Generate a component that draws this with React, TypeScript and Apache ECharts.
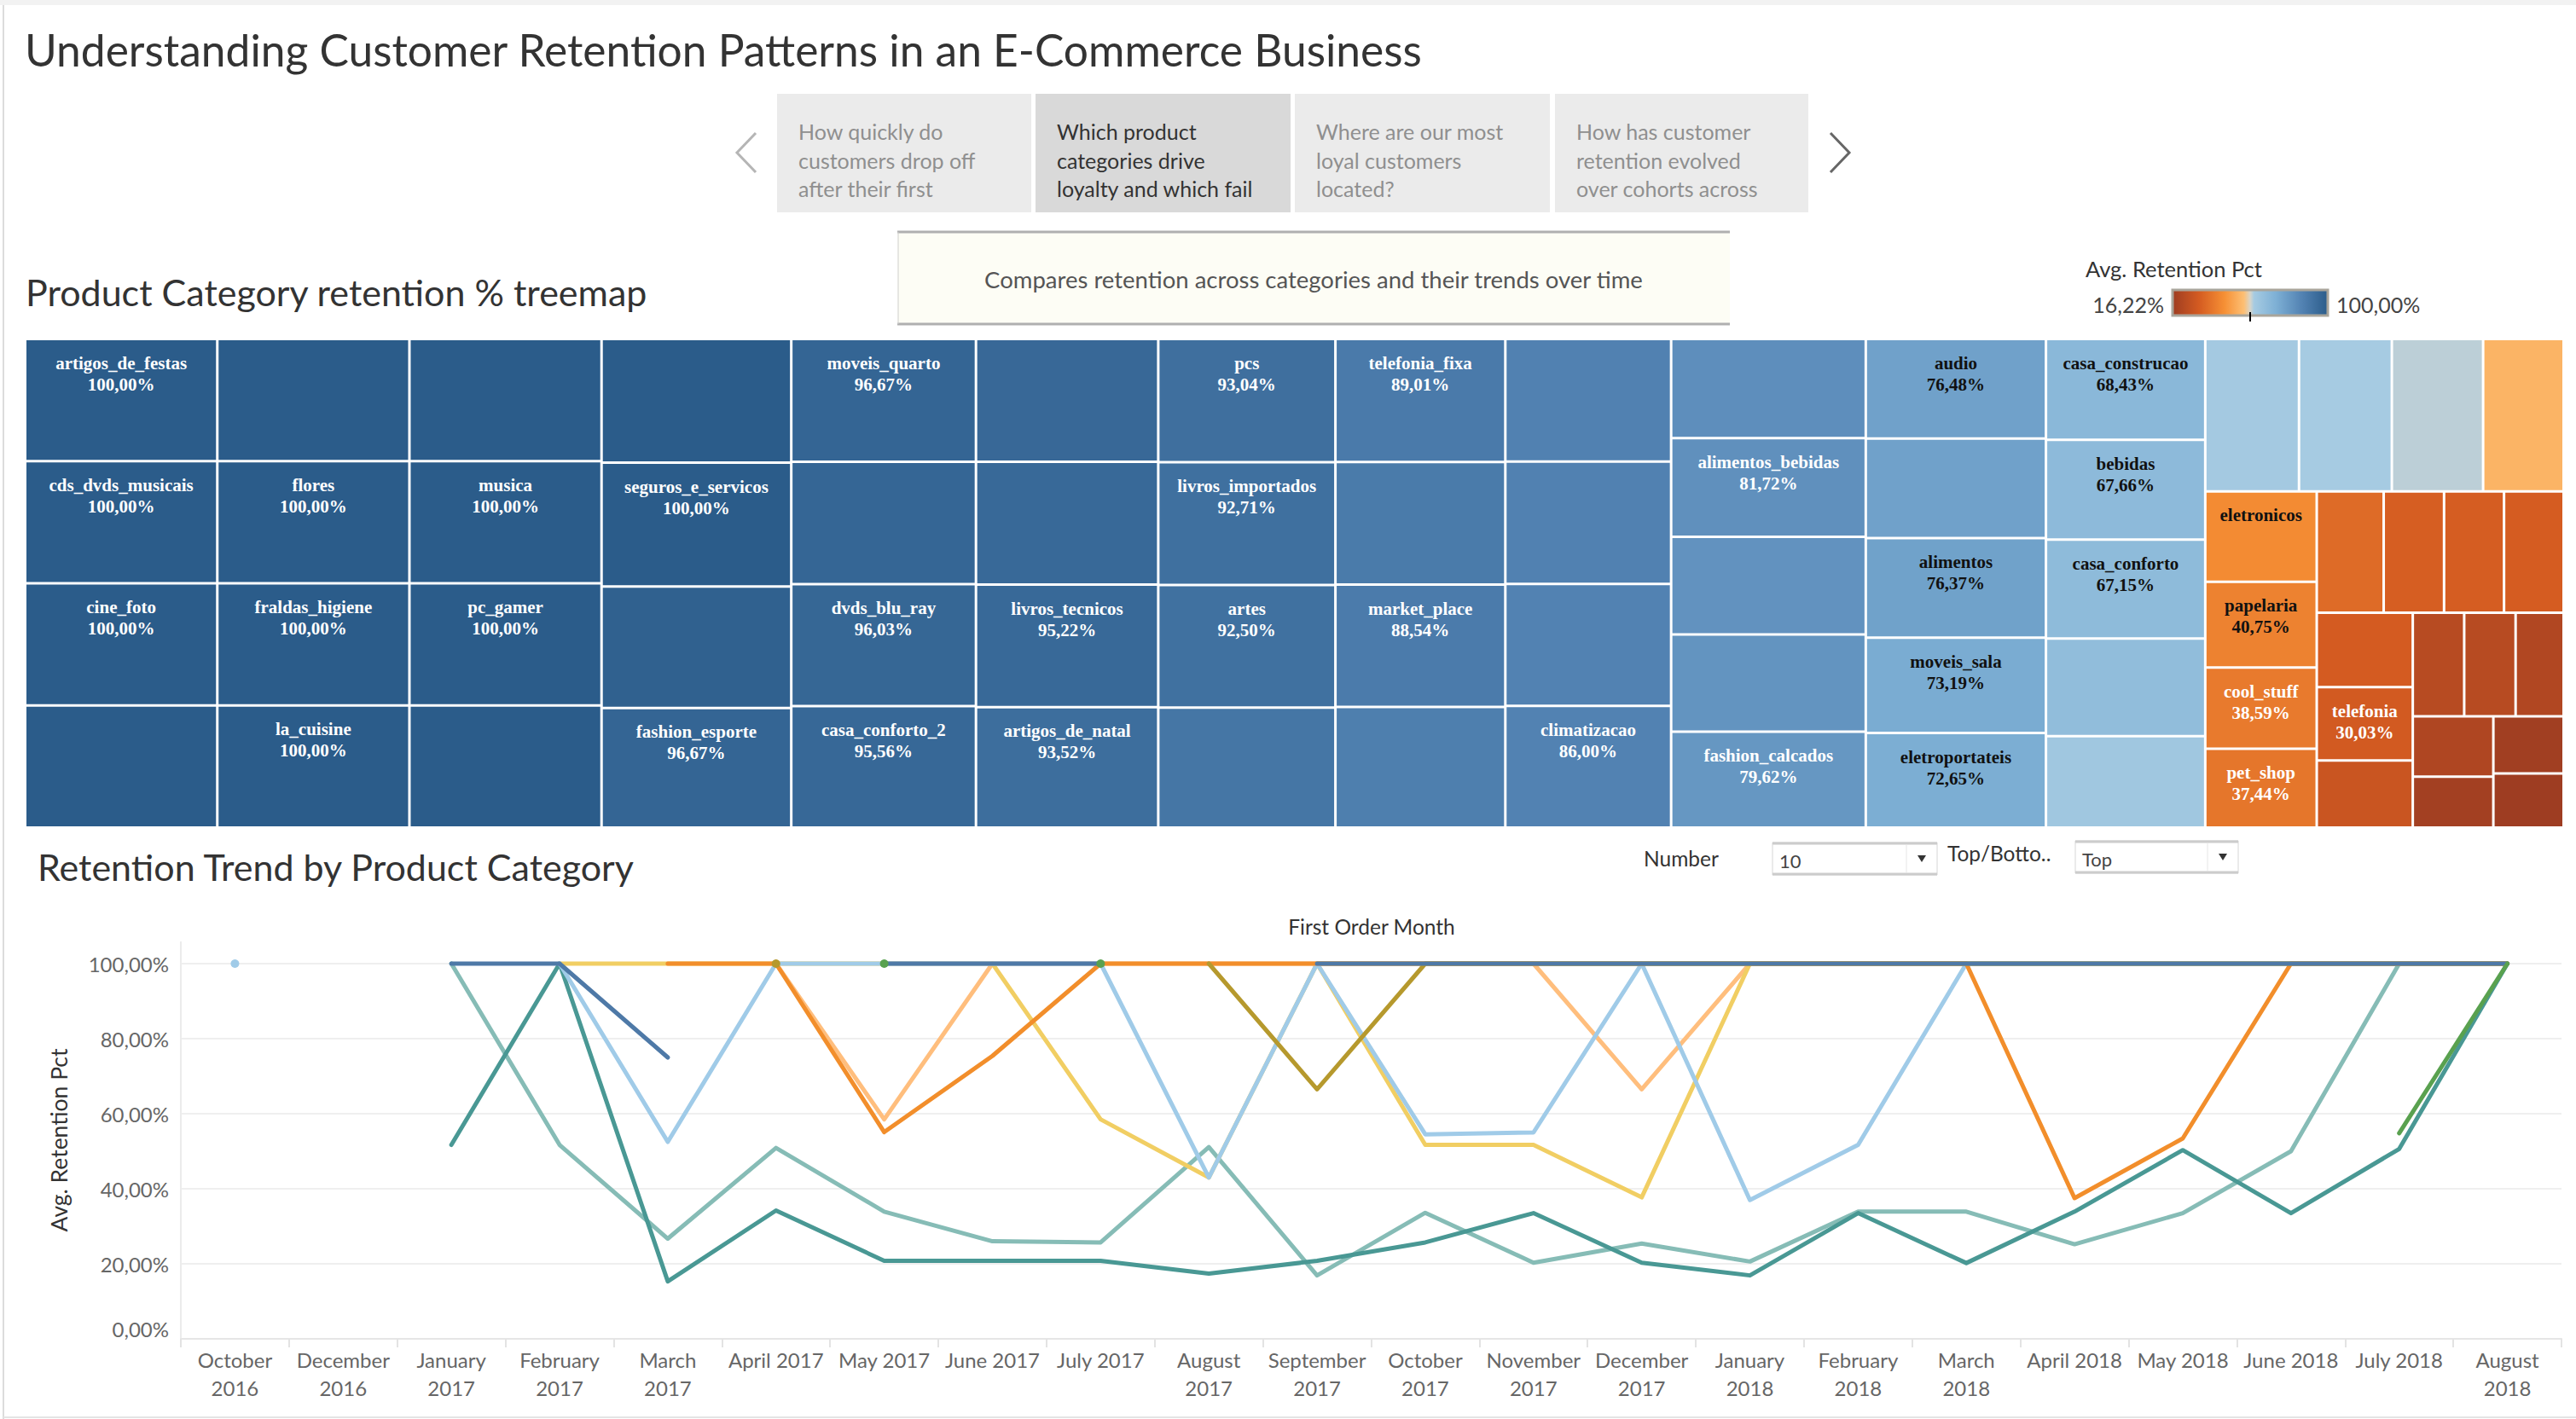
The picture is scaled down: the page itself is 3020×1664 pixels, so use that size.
import React, { useEffect, useRef } from 'react';
import * as echarts from 'echarts';

// ---------------- DATA ----------------
// Treemap: categories whose labels are shown, with Avg. Retention Pct
const labeledCats = [
  'artigos_de_festas', 'cds_dvds_musicais', 'cine_foto', 'flores', 'fraldas_higiene', 'la_cuisine',
  'musica', 'pc_gamer', 'seguros_e_servicos', 'fashion_esporte', 'moveis_quarto', 'dvds_blu_ray',
  'casa_conforto_2', 'livros_tecnicos', 'artigos_de_natal', 'pcs', 'livros_importados', 'artes',
  'telefonia_fixa', 'market_place', 'climatizacao', 'alimentos_bebidas', 'fashion_calcados', 'audio',
  'alimentos', 'moveis_sala', 'eletroportateis', 'casa_construcao', 'bebidas', 'casa_conforto',
  'eletronicos', 'papelaria', 'cool_stuff', 'pet_shop', 'telefonia',
];
const labeledVals = [
  100, 100, 100, 100, 100, 100,
  100, 100, 100, 96.67, 96.67, 96.03,
  95.56, 95.22, 93.52, 93.04, 92.71, 92.5,
  89.01, 88.54, 86.0, 81.72, 79.62, 76.48,
  76.37, 73.19, 72.65, 68.43, 67.66, 67.15,
  42.9, 40.75, 38.59, 37.44, 30.03,
];
// label shows only the name (value line not displayed)
const nameOnlyCats = ['eletronicos'];
// Treemap: categories whose labels are not displayed
const otherCats = [
  'fashion_roupa_feminina', 'fashion_roupa_infanto_juvenil', 'moveis_colchao_e_estofado',
  'portateis_casa_forno_e_cafe', 'portateis_cozinha_e_preparadores_de_alimentos', 'artes_e_artesanato',
  'fashion_underwear_e_moda_praia', 'construcao_ferramentas_ferramentas', 'industria_comercio_e_negocios',
  'livros_interesse_geral', 'fashion_bolsas_e_acessorios', 'construcao_ferramentas_iluminacao',
  'agro_industria_e_comercio', 'moveis_cozinha_area_de_servico_jantar_e_jardim', 'sinalizacao_e_seguranca',
  'construcao_ferramentas_seguranca', 'fashion_roupa_masculina', 'instrumentos_musicais',
  'tablets_impressao_imagem', 'construcao_ferramentas_jardim', 'construcao_ferramentas_construcao',
  'eletrodomesticos_2', 'malas_acessorios', 'moveis_escritorio', 'ferramentas_jardim',
  'eletrodomesticos', 'perfumaria', 'automotivo', 'brinquedos', 'relogios_presentes', 'consoles_games',
  'bebes', 'utilidades_domesticas', 'informatica_acessorios', 'esporte_lazer', 'moveis_decoracao',
  'beleza_saude', 'cama_mesa_banho',
];
const otherVals = [
  100, 100, 100,
  100, 100, 98.3,
  96.3, 95.45, 95.3,
  90.6, 88.8, 87.4,
  86.6, 86.4, 86.2,
  82.3, 81.0, 80.6,
  76.45, 66.3, 62.1,
  60.9, 60.3, 59.3, 52.3,
  34.6, 31.2, 31.0, 30.8, 30.4, 27.5,
  22.7, 22.7, 21.2, 20.7, 17.5,
  17.1, 16.22,
];
const legendMin = 16.22;
const legendMax = 100;

// Line chart
const months = [
  'October\n2016', 'December\n2016', 'January\n2017', 'February\n2017', 'March\n2017', 'April 2017',
  'May 2017', 'June 2017', 'July 2017', 'August\n2017', 'September\n2017', 'October\n2017',
  'November\n2017', 'December\n2017', 'January\n2018', 'February\n2018', 'March\n2018', 'April 2018',
  'May 2018', 'June 2018', 'July 2018', 'August\n2018',
];
const yTicks = [0, 20, 40, 60, 80, 100];
const _ = null;
const automotivo = [_, _, 100, 100, 75, _, 100, 100, 100, _, 100, 100, 100, 100, 100, 100, 100, 100, 100, 100, 100, 100];
const belezaSaude = [100, _, _, 100, 52.5, 100, 100, 100, 100, 43, 100, 54.5, 55, 100, 37, 51.7, 100, 100, 100, 100, 100, 100];
const camaMesaBanho = [_, _, _, _, 100, 100, 55.1, 75.4, 100, 100, 100, 100, 100, 100, 100, 100, 100, 37.5, 53.4, 100, 100, 100];
const esporteLazer = [_, _, _, _, _, 100, 58.5, 100, 100, 100, 100, 100, 100, 66.5, 100, 100, 100, 100, 100, 100, 100, 100];
const ferramentasJardim = [_, _, _, _, _, _, 100, _, 100, _, _, _, _, _, _, _, _, _, _, _, 54.8, 100];
const informaticaAcessorios = [_, _, _, _, _, _, _, _, _, _, 100, 100, 100, 100, 100, 100, 100, 100, 100, 100, 100, 100];
const moveisDecoracao = [_, _, _, _, _, 100, _, _, _, 100, 66.5, 100, 100, 100, 100, 100, 100, 100, 100, 100, 100, 100];
const relogiosPresentes = [_, _, _, 100, 100, 100, 100, 100, 58.5, 43, 100, 51.7, 51.7, 37.7, 100, 100, 100, 100, 100, 100, 100, 100];
const telefoniaTrend = [_, _, 51.7, 100, 15.3, 34.2, 20.8, 20.8, 20.8, 17.4, 20.8, 25.7, 33.5, 20.3, 16.9, 33.5, 20.2, 33.9, 50.3, 33.5, 50.6, 100];
const utilidadesDomesticas = [_, _, 100, 51.7, 26.7, 50.9, 33.9, 26.0, 25.7, 51.1, 16.9, 33.6, 20.3, 25.4, 20.6, 33.9, 33.9, 25.2, 33.5, 50.0, 100, 100];

// draw order (later on top)
const trendSeries = [
  { name: 'informatica_acessorios', data: informaticaAcessorios, color: '#8cd17d' },
  { name: 'utilidades_domesticas', data: utilidadesDomesticas, color: '#86bcb6' },
  { name: 'telefonia', data: telefoniaTrend, color: '#499894' },
  { name: 'esporte_lazer', data: esporteLazer, color: '#ffbe7d' },
  { name: 'relogios_presentes', data: relogiosPresentes, color: '#f1ce63' },
  { name: 'beleza_saude', data: belezaSaude, color: '#a0cbe8' },
  { name: 'cama_mesa_banho', data: camaMesaBanho, color: '#f28e2b' },
  { name: 'moveis_decoracao', data: moveisDecoracao, color: '#b6992d' },
  { name: 'automotivo', data: automotivo, color: '#4e79a7' },
  { name: 'ferramentas_jardim', data: ferramentasJardim, color: '#59a14f' },
];

// ---------------- STYLE HELPERS ----------------
const divStops: [number, string][] = [
  [-1, '#9e3d22'], [-0.66, '#d45b21'], [-0.33, '#f69035'], [-0.08, '#fdbf74'], [0, '#d9d5c9'],
  [0.05, '#a6cbe2'], [0.33, '#7eb0d5'], [0.66, '#5383b3'], [1, '#2b5c8a'],
];
function hex2rgb(h: string) {
  const n = parseInt(h.slice(1), 16);
  return [(n >> 16) & 255, (n >> 8) & 255, n & 255];
}
function toT(v: number) {
  const mid = (legendMin + legendMax) / 2;
  return v >= mid ? (v - mid) / (legendMax - mid) : (v - mid) / (mid - legendMin);
}
function colorAtT(t: number) {
  for (let i = 0; i < divStops.length - 1; i++) {
    const [t0, c0] = divStops[i];
    const [t1, c1] = divStops[i + 1];
    if (t <= t1 || i === divStops.length - 2) {
      const f = Math.max(0, Math.min(1, (t - t0) / (t1 - t0)));
      const a = hex2rgb(c0);
      const b = hex2rgb(c1);
      const r = a.map((x, k) => Math.round(x + (b[k] - x) * f));
      return `rgb(${r[0]},${r[1]},${r[2]})`;
    }
  }
  return divStops[0][1];
}
const retentionColor = (v: number) => colorAtT(toT(v));
const pct = (v: number) => `${v.toFixed(2).replace('.', ',')}%`;

const FONT = 'Lato';

function buildTreeData() {
  const items: any[] = [];
  labeledCats.forEach((name, i) => items.push({ name, value: labeledVals[i], shown: true }));
  otherCats.forEach((name, i) => items.push({ name, value: otherVals[i], shown: false }));
  // descending by value, ties alphabetical (the treemap keeps this order: sort disabled)
  items.sort((a, b) => b.value - a.value || (a.name < b.name ? -1 : a.name > b.name ? 1 : 0));
  return items.map((it) => {
    const v = it.value;
    const white = v >= 78 || v <= 39.5;
    return {
      name: it.name,
      value: v,
      itemStyle: { color: retentionColor(v) },
      label: { show: it.shown, color: white ? '#ffffff' : '#111111' },
    };
  });
}

function markIsolated(arr: (number | null)[]) {
  return arr.map((v, i) => {
    if (v == null) return null;
    const prev = i > 0 ? arr[i - 1] : null;
    const next = i < arr.length - 1 ? arr[i + 1] : null;
    if (prev == null && next == null) return { value: v, symbol: 'circle', symbolSize: 10 };
    return v;
  });
}

function txt(x: number, y: number, text: string, size: number, fill: string, align = 'left', extra: any = {}) {
  return {
    type: 'text', x, y, silent: true,
    style: {
      text, fontSize: size, fontFamily: FONT, fill,
      align, textAlign: align, verticalAlign: 'middle', textVerticalAlign: 'middle', ...extra,
    },
  };
}

function buildGraphics() {
  const g: any[] = [];
  // frame
  g.push({ type: 'rect', shape: { x: 0, y: 0, width: 3020, height: 6 }, style: { fill: '#f2f2f2' }, silent: true });
  g.push({ type: 'line', shape: { x1: 4, y1: 6, x2: 4, y2: 1664 }, style: { stroke: '#dcdcdc', lineWidth: 2 }, silent: true });
  g.push({ type: 'line', shape: { x1: 4, y1: 1662, x2: 3020, y2: 1662 }, style: { stroke: '#e4e4e4', lineWidth: 2 }, silent: true });

  // title
  g.push(txt(29, 58, 'Understanding Customer Retention Patterns in an E-Commerce Business', 51.5, '#333333'));

  // navigator
  g.push({ type: 'polyline', shape: { points: [[886, 156], [864, 179], [886, 202]] }, style: { stroke: '#b5b5b5', lineWidth: 3, fill: 'none' }, silent: true });
  g.push({ type: 'polyline', shape: { points: [[2146, 156], [2168, 179], [2146, 202]] }, style: { stroke: '#666666', lineWidth: 3, fill: 'none' }, silent: true });
  const boxes = [
    { x: 911, w: 298, sel: false, lines: ['How quickly do', 'customers drop off', 'after their first'] },
    { x: 1214, w: 299, sel: true, lines: ['Which product', 'categories drive', 'loyalty and which fail'] },
    { x: 1518, w: 299, sel: false, lines: ['Where are our most', 'loyal customers', 'located?'] },
    { x: 1823, w: 297, sel: false, lines: ['How has customer', 'retention evolved', 'over cohorts across'] },
  ];
  boxes.forEach((b) => {
    g.push({ type: 'rect', shape: { x: b.x, y: 110, width: b.w, height: 139 }, style: { fill: b.sel ? '#d9d9d9' : '#ebebeb' }, silent: true });
    b.lines.forEach((l, k) => g.push(txt(b.x + 25, 154 + k * 33.5, l, 25, b.sel ? '#333333' : '#8f8f8f')));
  });

  // description box
  g.push({ type: 'rect', shape: { x: 1052, y: 271, width: 976, height: 110 }, style: { fill: '#fdfdf5' }, silent: true });
  g.push({ type: 'line', shape: { x1: 1052, y1: 272, x2: 2028, y2: 272 }, style: { stroke: '#b0b0b0', lineWidth: 3 }, silent: true });
  g.push({ type: 'line', shape: { x1: 1052, y1: 380, x2: 2028, y2: 380 }, style: { stroke: '#b0b0b0', lineWidth: 3 }, silent: true });
  g.push({ type: 'line', shape: { x1: 1053, y1: 272, x2: 1053, y2: 380 }, style: { stroke: '#d0d0d0', lineWidth: 1 }, silent: true });
  g.push(txt(1540, 327, 'Compares retention across categories and their trends over time', 27.5, '#555555', 'center'));

  // section titles
  g.push(txt(30, 342, 'Product Category retention % treemap', 43, '#333333'));
  g.push(txt(44, 1016, 'Retention Trend by Product Category', 43, '#333333'));

  // color legend
  g.push(txt(2445, 315, 'Avg. Retention Pct', 25.5, '#333333'));
  const grad = new echarts.graphic.LinearGradient(0, 0, 1, 0,
    divStops.map(([t, c]) => ({ offset: (t + 1) / 2, color: c })));
  g.push({ type: 'rect', shape: { x: 2547, y: 340, width: 182, height: 30 }, style: { fill: grad, stroke: '#a9a59b', lineWidth: 3 }, silent: true });
  g.push({ type: 'line', shape: { x1: 2638, y1: 366, x2: 2638, y2: 377 }, style: { stroke: '#000', lineWidth: 2 }, silent: true });
  g.push(txt(2537, 357, pct(legendMin), 25, '#444444', 'right'));
  g.push(txt(2739, 357, pct(legendMax), 25, '#444444', 'left'));

  // parameter controls
  g.push(txt(1927, 1006, 'Number', 24.5, '#333333'));
  const dd = (x: number, y: number, w: number, label: string) => {
    g.push({ type: 'rect', shape: { x, y, width: w, height: 38 }, style: { fill: '#fff', stroke: '#d6d6d6', lineWidth: 1 }, silent: true });
    g.push({ type: 'line', shape: { x1: x, y1: y + 1, x2: x + w, y2: y + 1 }, style: { stroke: '#cccccc', lineWidth: 3 }, silent: true });
    g.push({ type: 'line', shape: { x1: x, y1: y + 37, x2: x + w, y2: y + 37 }, style: { stroke: '#cccccc', lineWidth: 3 }, silent: true });
    g.push({ type: 'line', shape: { x1: x + w - 36, y1: y + 3, x2: x + w - 36, y2: y + 35 }, style: { stroke: '#e6e6e6', lineWidth: 1 }, silent: true });
    g.push({ type: 'polygon', shape: { points: [[x + w - 23, y + 15], [x + w - 13, y + 15], [x + w - 18, y + 23]] }, style: { fill: '#333' }, silent: true });
    g.push(txt(x + 8, y + 21, label, 22, '#444444'));
  };
  dd(2078, 988, 193, '10');
  g.push(txt(2283, 1000, 'Top/Botto..', 24.5, '#333333'));
  dd(2433, 986, 191, 'Top');
  g.push(txt(1608, 1086, 'First Order Month', 24.5, '#333333', 'center'));

  // line chart: y-axis title and upward extension of the axis line
  g.push({ ...txt(69, 1337, 'Avg. Retention Pct', 26.5, '#333333', 'center'), rotation: Math.PI / 2 });
  g.push({ type: 'line', shape: { x1: 212, y1: 1104, x2: 212, y2: 1130 }, style: { stroke: '#ececec', lineWidth: 2 }, silent: true });
  return g;
}

function buildOption(): any {
  const treeData = buildTreeData();
  return {
    animation: false,
    backgroundColor: '#ffffff',
    textStyle: { fontFamily: FONT },
    graphic: { elements: buildGraphics() },
    grid: { left: 212, top: 1130, width: 2791, height: 440, containLabel: false },
    xAxis: {
      type: 'category', data: months, boundaryGap: true,
      axisLine: { show: true, lineStyle: { color: '#e6e6e6', width: 2 } },
      axisTick: { show: true, interval: 0, length: 10, lineStyle: { color: '#e3e3e3', width: 2 } },
      axisLabel: { interval: 0, fontSize: 24, color: '#666666', lineHeight: 33, margin: 8, fontFamily: FONT },
      splitLine: { show: false },
    },
    yAxis: {
      type: 'value', min: yTicks[0], max: yTicks[yTicks.length - 1], interval: 20,
      axisLine: { show: true, lineStyle: { color: '#ececec', width: 2 } },
      axisTick: { show: false },
      axisLabel: { fontSize: 24, color: '#666666', margin: 14, formatter: (v: number) => pct(v), verticalAlignMinLabel: 'bottom' },
      splitLine: { show: true, lineStyle: { color: '#efefef', width: 2 } },
    },
    series: [
      {
        type: 'treemap',
        left: 31, top: 399, width: 2973, height: 570,
        roam: false, nodeClick: false, silent: true,
        breadcrumb: { show: false },
        sort: false,
        itemStyle: { borderColor: '#ffffff', borderWidth: 0, gapWidth: 3 },
        levels: [{ itemStyle: { borderWidth: 0, gapWidth: 3 } }, { itemStyle: { borderWidth: 0 } }],
        upperLabel: { show: false },
        label: {
          show: true, position: 'insideTop', distance: 14, padding: 0,
          fontFamily: 'Liberation Serif', fontWeight: 'bold', fontSize: 21, lineHeight: 25,
          overflow: 'none',
          formatter: (p: any) => (nameOnlyCats.includes(p.name) ? p.name : `${p.name}\n${pct(p.value)}`),
        },
        emphasis: { disabled: true },
        data: treeData,
      },
      ...trendSeries.map((s) => ({
        type: 'line', name: s.name, data: markIsolated(s.data),
        symbol: 'none', showSymbol: true, connectNulls: false, clip: false, silent: true,
        itemStyle: { color: s.color },
        lineStyle: { color: s.color, width: 5, cap: 'round', join: 'round' },
        emphasis: { disabled: true },
      })),
    ],
  };
}

export default function App() {
  const ref = useRef<HTMLDivElement>(null);
  useEffect(() => {
    document.body.style.margin = '0';
    if (!ref.current) return;
    const chart = echarts.init(ref.current, undefined, { renderer: 'svg' });
    chart.setOption(buildOption());
    return () => chart.dispose();
  }, []);
  return <div ref={ref} style={{ width: 3020, height: 1664 }} />;
}
